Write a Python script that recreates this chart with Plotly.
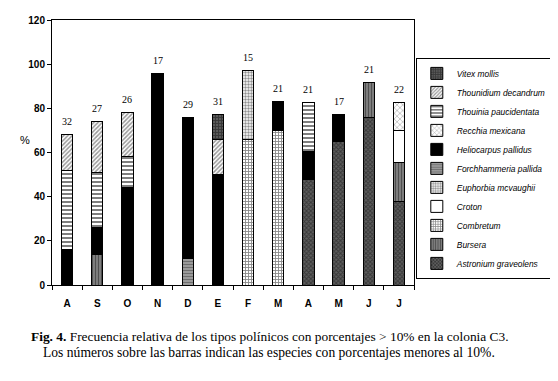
import plotly.graph_objects as go

months = ["A", "S", "O", "N", "D", "E", "F", "M", "A", "M", "J", "J"]
minor_counts = [32, 27, 26, 17, 29, 31, 15, 21, 21, 17, 21, 22]

# stacked segment heights (%) per month, bottom to top by species order
astronium = [0, 0, 0, 0, 0, 0, 0, 0, 48, 65, 76, 38]
bursera = [0, 14, 0, 0, 0, 0, 0, 0, 0, 0, 15.5, 17.5]
combretum = [0, 0, 0, 0, 0, 0, 66, 70, 0, 0, 0, 0]
croton = [0, 0, 0, 0, 0, 0, 0, 0, 0, 0, 0, 14.5]
euphorbia = [0, 0, 0, 0, 0, 0, 31, 0, 0, 0, 0, 0]
forchhammeria = [0, 0, 0, 0, 12, 0, 0, 0, 0, 0, 0, 0]
heliocarpus = [16, 12, 44, 96, 64, 50, 0, 13, 12.5, 12, 0, 0]
recchia = [0, 0, 0, 0, 0, 0, 0, 0, 0, 0, 0, 12.5]
thouinia = [36, 25, 14, 0, 0, 0, 0, 0, 22, 0, 0, 0]
thounidium = [16, 23, 20, 0, 0, 16, 0, 0, 0, 0, 0, 0]
vitex = [0, 0, 0, 0, 0, 11, 0, 0, 0, 0, 0, 0]

y_ticks = [0, 20, 40, 60, 80, 100, 120]

caption_1 = "<b>Fig. 4.</b> Frecuencia relativa de los tipos polínicos con porcentajes &gt; 10% en la colonia C3."
caption_2 = "Los números sobre las barras indican las especies con porcentajes menores al 10%."

series = [
    ("Astronium graveolens", astronium, dict(shape="x", fgcolor="#111111", bgcolor="#5e5e5e", size=3, solidity=0.55)),
    ("Bursera", bursera, dict(shape="|", fgcolor="#111111", bgcolor="#8c8c8c", size=3, solidity=0.5)),
    ("Combretum", combretum, dict(shape="+", fgcolor="#111111", bgcolor="#ffffff", size=3, solidity=0.5)),
    ("Croton", croton, None),
    ("Euphorbia mcvaughii", euphorbia, dict(shape=".", fgcolor="#222222", bgcolor="#ffffff", size=3, solidity=0.5)),
    ("Forchhammeria pallida", forchhammeria, dict(shape="-", fgcolor="#333333", bgcolor="#a8a8a8", size=3, solidity=0.5)),
    ("Heliocarpus pallidus", heliocarpus, None),
    ("Recchia mexicana", recchia, dict(shape="x", fgcolor="#555555", bgcolor="#ffffff", size=4, solidity=0.3)),
    ("Thouinia paucidentata", thouinia, dict(shape="-", fgcolor="#000000", bgcolor="#ffffff", size=4, solidity=0.5)),
    ("Thounidium decandrum", thounidium, dict(shape="/", fgcolor="#333333", bgcolor="#ffffff", size=3, solidity=0.5)),
    ("Vitex mollis", vitex, dict(shape="+", fgcolor="#111111", bgcolor="#5a5a5a", size=3, solidity=0.5)),
]

solid_colors = {"Croton": "#ffffff", "Heliocarpus pallidus": "#000000"}

x = list(range(len(months)))
fig = go.Figure()
for name, vals, pat in series:
    marker = dict(line=dict(color="#000000", width=1))
    if pat is None:
        marker["color"] = solid_colors[name]
    else:
        marker["color"] = pat["bgcolor"]
        marker["pattern"] = pat
    fig.add_trace(go.Bar(x=x, y=vals, name=name, marker=marker, width=0.38))

totals = [sum(s[1][i] for s in series) for i in range(len(months))]
for i, (t, c) in enumerate(zip(totals, minor_counts)):
    fig.add_annotation(x=i, y=t, text=str(c), showarrow=False, yshift=13,
                       font=dict(family="Liberation Serif", size=10, color="#000"))

fig.add_annotation(xref="paper", yref="paper", x=-0.094, y=0.547, text="%", showarrow=False,
                   font=dict(family="Liberation Sans", size=11, color="#000"))

for txt, yy, sz, xs in ((caption_1, -0.196, 13.4, 37), (caption_2, -0.253, 13.6, 36)):
    fig.add_annotation(xref="paper", yref="paper", x=0.5, xanchor="center", y=yy, yanchor="middle",
                       xshift=xs, text=txt, showarrow=False,
                       font=dict(family="Liberation Serif", size=sz, color="#000"))

# page body adds an 8px offset, so the figure is 8px smaller and margins shifted
fig.update_layout(
    barmode="stack",
    width=550, height=373,
    margin=dict(l=44, r=144, t=12, b=96, autoexpand=False),
    paper_bgcolor="white", plot_bgcolor="white",
    showlegend=True,
    legend=dict(x=1.005, xanchor="left", y=0.857, yanchor="top",
                bordercolor="#000", borderwidth=1, bgcolor="white",
                font=dict(family="Liberation Sans", size=8.4, color="#000", style="italic"),
                itemwidth=30, tracegroupgap=0, traceorder="reversed"),
    xaxis=dict(range=[-0.5, 11.5], tickmode="array", tickvals=x, ticktext=months,
               ticks="outside", ticklen=9, tickcolor="rgba(0,0,0,0)",
               showline=True, linecolor="#000", linewidth=1, mirror=True,
               showgrid=False, zeroline=False,
               tickfont=dict(family="Liberation Sans", size=10, color="#000", weight="bold"),
               minor=dict(tickmode="linear", tick0=0.5, dtick=1, ticks="outside", ticklen=4,
                          tickcolor="#000", showgrid=False)),
    yaxis=dict(range=[0, 120], tickmode="array", tickvals=y_ticks, ticks="outside", ticklen=4,
               tickcolor="#000", showline=True, linecolor="#000", linewidth=1, mirror=True,
               showgrid=False, zeroline=False,
               tickfont=dict(family="Liberation Sans", size=10, color="#000", weight="bold")),
)

fig.write_html("out.html")
